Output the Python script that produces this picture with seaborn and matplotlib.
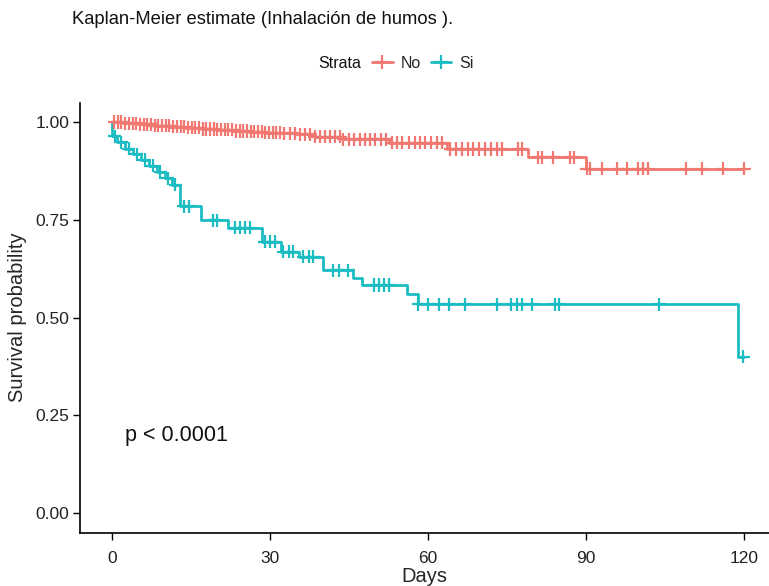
import numpy as np
import pandas as pd
import matplotlib
matplotlib.use("Agg")
import matplotlib.pyplot as plt
from matplotlib.lines import Line2D
import seaborn as sns

sns.set_theme(style="ticks")
plt.rcParams["font.family"] = ["Liberation Sans", "DejaVu Sans"]

# Kaplan-Meier steps: event times and survival right after each event
no_event_t = [2.0, 5.0, 8.0, 11.0, 14.0, 17.0, 20.0, 23.0, 26.0, 29.0, 32.0, 35.0,
              38.5, 43.6, 52.6, 63.5, 78.9, 90.0]
no_event_s = [0.997, 0.994, 0.991, 0.988, 0.985, 0.982, 0.980, 0.977, 0.975, 0.973,
              0.971, 0.9685, 0.962, 0.956, 0.947, 0.931, 0.910, 0.881]

si_event_t = [0.0, 1.0, 2.5, 4.0, 5.5, 7.0, 8.5, 10.0, 11.3, 12.9, 16.8, 22.1, 28.4,
              32.0, 35.5, 40.0, 45.8, 47.4, 55.9, 58.1, 118.8]
si_event_s = [0.964, 0.948, 0.932, 0.918, 0.903, 0.888, 0.872, 0.856, 0.840, 0.785,
              0.749, 0.730, 0.694, 0.668, 0.655, 0.621, 0.600, 0.583, 0.560, 0.534,
              0.400]

# Censoring times
no_censor_t = [0.4, 1.1, 1.8, 2.5, 3.2, 3.9, 4.6, 5.3, 6.0, 6.7, 7.4, 8.1, 8.8, 9.5,
               10.2, 10.9, 11.6, 12.3, 13.0, 13.7, 14.4, 15.1, 15.8, 16.5, 17.2, 17.9,
               18.6, 19.3, 20.0, 20.7, 21.4, 22.1, 22.8, 23.5, 24.2, 24.9, 25.6, 26.3,
               27.0, 27.7, 28.4, 29.1, 29.8, 30.5, 31.2, 31.9, 32.6, 33.8, 34.7, 35.7,
               36.6, 37.6, 38.5, 39.5, 40.4, 41.4, 42.3, 43.3, 43.9, 45.0, 46.0, 47.0,
               48.0, 49.0, 50.0, 51.0, 52.0, 53.1, 54.1, 55.1, 56.4, 57.5, 58.5, 59.5,
               60.5, 61.6, 62.7, 64.2, 65.3, 66.4, 67.5, 68.6, 69.7, 70.8, 71.9, 73.0,
               74.1, 77.1, 77.8, 80.9, 81.6, 83.7, 86.9, 87.7, 90.1, 90.8, 93.0, 95.9,
               97.8, 99.9, 100.8, 101.7, 109.0, 111.9, 115.9, 120.0]
si_censor_t = [0.5, 1.7, 3.2, 4.7, 6.2, 7.7, 9.2, 10.6, 12.0, 13.6, 14.6, 19.2, 19.9,
               23.3, 24.3, 25.2, 26.2, 29.0, 30.0, 31.0, 32.5, 33.5, 34.4, 36.3, 37.3,
               38.2, 42.0, 43.0, 44.8, 49.7, 50.7, 51.6, 52.6, 58.1, 60.0, 62.0, 64.0,
               67.0, 73.0, 75.8, 76.9, 77.9, 79.8, 84.0, 84.9, 103.9, 119.8]

strata = ["No", "Si"]
colors = {"No": "#F07870", "Si": "#1CBDC2"}
p_text = "p < 0.0001"


def curve(ev_t, ev_s, t_end):
    t = [0.0] + list(ev_t) + [t_end]
    s = [1.0] + list(ev_s) + [ev_s[-1]]
    return t, s


def surv_at(ev_t, ev_s, times):
    idx = np.searchsorted(np.asarray(ev_t), np.asarray(times), side="right") - 1
    vals = np.where(idx >= 0, np.asarray(ev_s)[np.clip(idx, 0, None)], 1.0)
    return vals


rows, crows = [], []
for name, et, es, ct in [("No", no_event_t, no_event_s, no_censor_t),
                         ("Si", si_event_t, si_event_s, si_censor_t)]:
    t, s = curve(et, es, 120.0)
    rows.append(pd.DataFrame({"time": t, "surv": s, "Strata": name}))
    crows.append(pd.DataFrame({"time": ct, "surv": surv_at(et, es, ct), "Strata": name}))
steps = pd.concat(rows, ignore_index=True)
cens = pd.concat(crows, ignore_index=True)

W, H = 769, 586
fig = plt.figure(figsize=(W / 100, H / 100), dpi=100)
ax = fig.add_axes([80.4 / W, 1 - 532.5 / H, (W - 80.4) / W, 430 / H])

sns.lineplot(data=steps, x="time", y="surv", hue="Strata", palette=colors,
             estimator=None, sort=False, units="Strata", drawstyle="steps-post",
             linewidth=2.0, legend=False, ax=ax)
sns.scatterplot(data=cens, x="time", y="surv", hue="Strata", palette=colors,
                marker="+", s=90, linewidth=1.6, legend=False, ax=ax, zorder=3)

ax.set_xlim(-6, 124.7)
ax.set_ylim(-0.05, 1.05)
ax.set_xticks([0, 30, 60, 90, 120])
ax.set_yticks([0.0, 0.25, 0.5, 0.75, 1.0])
ax.set_yticklabels(["0.00", "0.25", "0.50", "0.75", "1.00"])
for side in ["top", "right"]:
    ax.spines[side].set_visible(False)
for side in ["left", "bottom"]:
    ax.spines[side].set_linewidth(1.2)
    ax.spines[side].set_color("black")
ax.tick_params(axis="both", length=5, width=1.0, color="black",
               labelsize=12.5, labelcolor="#222222")
ax.tick_params(axis="x", pad=8)
ax.tick_params(axis="y", pad=3)
ax.set_xlabel("Days", fontsize=14.5, labelpad=1)
ax.set_ylabel("Survival probability", fontsize=14.5, labelpad=6)
ax.text(2.5, 0.197, p_text, fontsize=15.5, va="center", ha="left", color="#111111")

fig.text(72 / W, 1 - 20 / H, "Kaplan-Meier estimate (Inhalación de humos ).",
         fontsize=13.2, va="center", ha="left", color="#111111")

fig.text(318 / W, 1 - 63 / H, "Strata", fontsize=11.5, va="center", ha="left",
         color="#111111")
handles = [Line2D([], [], color=colors[k], lw=2.0, marker="+", markersize=10,
                  markeredgewidth=1.6) for k in strata]
fig.legend(handles, strata, loc="center left", bbox_to_anchor=(364 / W, 1 - 63 / H),
           ncol=2, frameon=False, fontsize=11.5, handlelength=1.3, handletextpad=0.5,
           columnspacing=0.6, borderpad=0.0)

fig.savefig("out.png", dpi=100)
